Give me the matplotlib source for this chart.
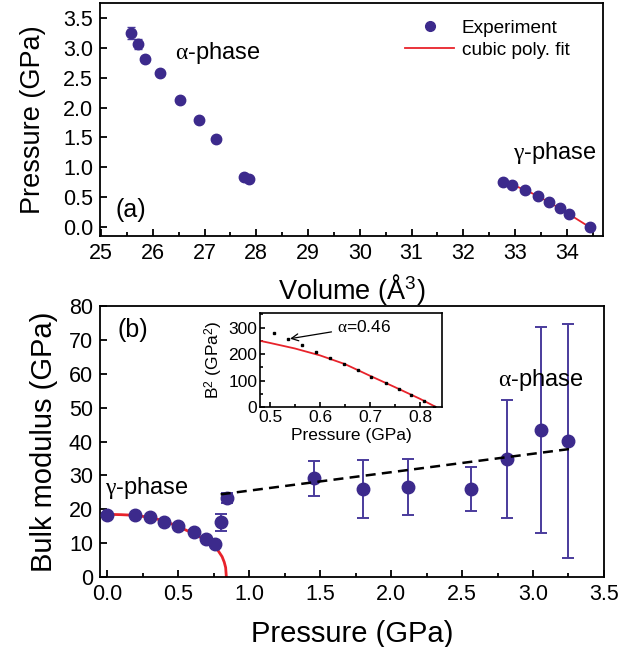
import matplotlib
matplotlib.use("Agg")
import matplotlib.pyplot as plt
from matplotlib.lines import Line2D
from matplotlib.ticker import MultipleLocator

plt.rcParams['font.family'] = ['Liberation Sans', 'DejaVu Sans']
plt.rcParams['mathtext.fontset'] = 'custom'
plt.rcParams['mathtext.rm'] = 'Liberation Sans'
plt.rcParams['mathtext.it'] = 'Liberation Serif'

PURPLE = '#3c2a8c'
EPURPLE = '#4a3b9c'
RED = '#e8232b'

# panel (a): P-V data
alpha_vol = [25.58, 25.72, 25.84, 26.14, 26.52, 26.89, 27.22, 27.76, 27.85]
alpha_p = [3.24, 3.06, 2.81, 2.57, 2.12, 1.80, 1.47, 0.84, 0.80]
alpha_perr = [0.10, 0.08, 0.05, 0.03, 0.03, 0.03, 0.03, 0.02, 0.02]
gamma_vol = [32.77, 32.94, 33.19, 33.44, 33.66, 33.86, 34.05, 34.44]
gamma_p = [0.76, 0.70, 0.62, 0.52, 0.42, 0.32, 0.22, 0.0]
fit_vol = [32.77, 33.0, 33.25, 33.5, 33.75, 34.0, 34.2, 34.44]
fit_p = [0.76, 0.69, 0.60, 0.49, 0.37, 0.24, 0.13, 0.0]

# panel (b): bulk modulus vs pressure
bm_p = [0.0, 0.20, 0.30, 0.40, 0.50, 0.61, 0.70, 0.757, 0.80, 0.845,
        1.46, 1.80, 2.12, 2.565, 2.815, 3.055, 3.25]
bm_b = [18.4, 18.2, 17.6, 16.2, 15.0, 13.4, 11.1, 9.6, 16.1, 23.3,
        29.1, 25.9, 26.6, 26.1, 34.8, 43.5, 40.2]
bm_err = [0.4, 0.4, 0.4, 0.4, 0.4, 0.4, 0.4, 0.4, 2.6, 1.6,
          5.2, 8.5, 8.3, 6.5, 17.5, 30.4, 34.5]
bfit_p = [0.0, 0.1, 0.2, 0.3, 0.4, 0.5, 0.6, 0.7, 0.75, 0.78, 0.81, 0.825, 0.835, 0.84]
bfit_b = [18.5, 18.4, 18.2, 17.6, 16.6, 14.9, 13.0, 10.8, 9.4, 7.9, 6.0, 4.4, 2.8, 0.0]
trend_p = [0.80, 3.26]
trend_b = [24.4, 37.8]

# inset: B^2 vs pressure
in_p = [0.508, 0.535, 0.563, 0.591, 0.619, 0.647, 0.675, 0.702, 0.731,
        0.759, 0.783, 0.809, 0.828]
in_b2 = [280, 256, 233, 209, 186, 163, 140, 115, 92, 68, 46, 23, 1]
infit_p = [0.48, 0.5, 0.55, 0.6, 0.65, 0.7, 0.75, 0.8, 0.832]
infit_b2 = [250, 242, 221, 195, 162, 118, 75, 31, 0]

fig = plt.figure(figsize=(6.39, 6.47), dpi=100)

def style(ax, size=15.5, lw=1.3):
    for s in ax.spines.values():
        s.set_linewidth(lw)
    ax.tick_params(which='both', direction='in', top=False, right=False,
                   labelsize=size, width=lw, pad=5)
    ax.tick_params(which='major', length=5)
    ax.tick_params(which='minor', length=3)

# ---- (a)
ax1 = fig.add_axes([0.1565, 0.6352, 0.7872, 0.3602])
ax1.errorbar(alpha_vol, alpha_p, yerr=alpha_perr, fmt='o', color=PURPLE,
             ecolor=EPURPLE, ms=7.5, capsize=3, elinewidth=1.2)
ax1.errorbar(gamma_vol, gamma_p, fmt='o', color=PURPLE, ms=7.5)
ax1.plot(fit_vol, fit_p, color=RED, lw=1.3)
ax1.set_xlim(24.98, 34.7)
ax1.set_ylim(-0.15, 3.75)
ax1.xaxis.set_major_locator(MultipleLocator(1))
ax1.xaxis.set_minor_locator(MultipleLocator(0.5))
ax1.yaxis.set_major_locator(MultipleLocator(0.5))
style(ax1)
ax1.set_xlabel('Volume (Å$^3$)', fontsize=19.5, labelpad=6)
ax1.set_ylabel('Pressure (GPa)', fontsize=19.5, labelpad=12)
ax1.text(26.43, 2.91, r'$\alpha$-phase', fontsize=17, va='center')
ax1.text(32.97, 1.24, r'$\gamma$-phase', fontsize=17, va='center')
ax1.text(25.27, 0.28, '(a)', fontsize=18, va='center')
handles = [Line2D([], [], ls='none', marker='o', color=PURPLE, ms=7),
           Line2D([], [], color=RED, lw=1.3)]
ax1.legend(handles, ['Experiment', 'cubic poly. fit'], loc='upper left',
           bbox_to_anchor=(0.606, 0.93), frameon=False,
           fontsize=13.7, handlelength=2.6, handletextpad=0.4, borderpad=0,
           borderaxespad=0, labelspacing=0.25)

# ---- (b)
ax2 = fig.add_axes([0.1565, 0.1082, 0.7887, 0.4188])
ax2.errorbar(bm_p, bm_b, yerr=bm_err, fmt='o', color=PURPLE, ecolor=EPURPLE,
             ms=9, capsize=4, elinewidth=1.4, capthick=1.4, zorder=3)
ax2.plot(bfit_p, bfit_b, color=RED, lw=2, zorder=2)
ax2.plot(trend_p, trend_b, color='black', lw=1.8, ls=(0, (4, 2.5)), zorder=4)
ax2.set_xlim(-0.05, 3.5)
ax2.set_ylim(0, 80)
ax2.xaxis.set_major_locator(MultipleLocator(0.5))
ax2.xaxis.set_minor_locator(MultipleLocator(0.25))
ax2.yaxis.set_major_locator(MultipleLocator(10))
style(ax2)
ax2.set_xlabel('Pressure (GPa)', fontsize=21, labelpad=11)
ax2.set_ylabel('Bulk modulus (GPa)', fontsize=21, labelpad=8)
ax2.text(0.07, 72.9, '(b)', fontsize=18, va='center')
ax2.text(-0.015, 26.4, r'$\gamma$-phase', fontsize=17, va='center')
ax2.text(2.75, 58.2, r'$\alpha$-phase', fontsize=17, va='center')

# ---- inset
ax3 = fig.add_axes([0.4069, 0.3709, 0.2848, 0.1453])
ax3.plot(infit_p, infit_b2, color=RED, lw=1.3)
ax3.plot(in_p, in_b2, 's', color='black', ms=1.6)
ax3.set_xlim(0.48, 0.844)
ax3.set_ylim(0, 355)
ax3.xaxis.set_major_locator(MultipleLocator(0.1))
ax3.xaxis.set_minor_locator(MultipleLocator(0.05))
ax3.yaxis.set_major_locator(MultipleLocator(100))
ax3.yaxis.set_minor_locator(MultipleLocator(50))
style(ax3, size=12.5, lw=1.2)
ax3.tick_params(which='major', length=3.5)
ax3.tick_params(which='minor', length=2)
ax3.tick_params(pad=2)
ax3.set_xlabel('Pressure (GPa)', fontsize=12.5, labelpad=2)
ax3.set_ylabel('B$^2$ (GPa$^2$)', fontsize=12.5, labelpad=2)
ax3.annotate(r'$\alpha$=0.46', xy=(0.54, 258), xytext=(0.634, 304),
             fontsize=12.5, va='center',
             arrowprops=dict(arrowstyle='->', color='black', lw=0.9,
                             shrinkA=2, shrinkB=0))

fig.savefig('out.png', dpi=100)
